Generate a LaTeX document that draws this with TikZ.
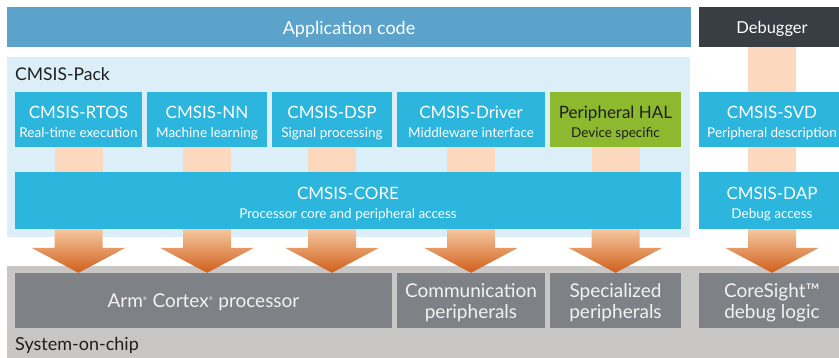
\documentclass[tikz,border=0pt]{standalone}
\usepackage{fontspec}
\setmainfont{Lato}
\usetikzlibrary{calc}
\definecolor{appblue}{HTML}{5BA3CB}
\definecolor{debugdark}{HTML}{393D44}
\definecolor{packbg}{HTML}{DCEFF8}
\definecolor{cmsisblue}{HTML}{2CB5DD}
\definecolor{halgreen}{HTML}{8CB92D}
\definecolor{peach}{HTML}{FBD8BE}
\definecolor{chipgrey}{HTML}{7E8185}
\definecolor{socgrey}{HTML}{C9C6C6}
\definecolor{darktext}{HTML}{1E1E1E}
\definecolor{arrowtop}{HTML}{F6C7A0}
\definecolor{arrowmid}{HTML}{EE8A3A}
\definecolor{arrowtip}{HTML}{CF5F1A}
\newcommand\subsize{\fontsize{13.5}{15}\selectfont}
\newcommand\twoline[2]{\rule{0pt}{19pt}#1\\{\subsize\vphantom{g}#2}}
\newcommand\flowarrow[3]{%
  \shade[bigarrow] let \p1=(#1.center |- #2.south), \p2=(#1.center |- #3.north) in
    (\x1-24pt,\y1) -- (\x1+24pt,\y1) -- (\x1+24pt,\y2+25pt) -- (\x1+47pt,\y2+25pt)
    -- (\x1,\y2) -- (\x1-47pt,\y2+25pt) -- (\x1-24pt,\y2+25pt) -- cycle;}
\tikzset{
  block/.style={rectangle, inner sep=0pt, text=white, align=center, font=\fontsize{17}{19}\selectfont},
  cmsis/.style={block, fill=cmsisblue, minimum height=55pt},
  chip/.style={block, fill=chipgrey, minimum height=55pt, text=white!95!black, font=\fontsize{19}{21}\selectfont},
  link/.style={draw=peach, line width=48pt},
  bigarrow/.style={top color=arrowtop, middle color=arrowmid, bottom color=arrowtip}
}

\begin{document}
\begin{tikzpicture}[x=1pt, y=-1pt]
    \useasboundingbox (0,0) rectangle (839,357);
    \clip (0,0) rectangle (839,357);
    \node[block, fill=appblue, minimum width=684pt, minimum height=40pt, text height=16.6pt, text depth=2pt, font=\fontsize{18}{20}\selectfont] (app) at (349,27) {Application code};
    \node[block, fill=debugdark, minimum width=146pt, minimum height=40pt, text height=14pt, text depth=1.4pt, font=\fontsize{16.5}{18}\selectfont] (debug) at (772,27) {Debugger};
    \fill[packbg] (7,57) rectangle (690,237);
    \fill[socgrey] (7,266) rectangle (845,360);
    \node[anchor=base west, text=darktext, inner sep=0pt, font=\fontsize{17.5}{19}\selectfont] (packlabel) at (15,80) {CMSIS-Pack};
    \node[anchor=base west, text=darktext, inner sep=0pt, font=\fontsize{18}{20}\selectfont] (soclabel) at (15,350) {System-on-chip};

    \node[cmsis, minimum width=127pt] (rtos) at (78.5,119.5) {\twoline{CMSIS-RTOS}{Real-time execution}};
    \node[cmsis, minimum width=120pt] (nn) at (207,119.5) {\twoline{CMSIS-NN}{Machine learning}};
    \node[cmsis, minimum width=120pt] (dsp) at (332,119.5) {\twoline{CMSIS-DSP}{Signal processing}};
    \node[cmsis, minimum width=148pt] (driver) at (471,119.5) {\twoline{CMSIS-Driver}{Middleware interface}};
    \node[cmsis, fill=halgreen, text=darktext, minimum width=131pt] (hal) at (615.5,119.5) {\twoline{Peripheral HAL}{Device specific}};
    \node[cmsis, minimum width=146pt] (svd) at (772,119.5) {\twoline{CMSIS-SVD}{Peripheral description}};
    \node[cmsis, minimum width=666pt, minimum height=57pt] (core) at (348,200.5) {\twoline{CMSIS-CORE}{Processor core and peripheral access}};
    \node[cmsis, minimum width=146pt, minimum height=57pt] (dap) at (772,200.5) {\twoline{CMSIS-DAP}{Debug access}};

    \node[chip, minimum width=377pt, text height=17pt, text depth=4pt] (arm) at (203.5,300.5) {Arm\textsuperscript{\tiny\textregistered} Cortex\textsuperscript{\tiny\textregistered} processor};
    \node[chip, minimum width=148pt] (comm) at (471,300.5) {\rule{0pt}{18pt}Communication\\peripherals};
    \node[chip, minimum width=131pt] (spec) at (615.5,300.5) {\rule{0pt}{18pt}Specialized\\peripherals};
    \node[chip, minimum width=146pt] (sight) at (772,300.5) {\rule{0pt}{18pt}CoreSight™\\debug logic};

    \foreach \n in {rtos,nn,dsp,driver,hal}
      \draw[link] (\n.south) -- (\n.south |- core.north);
    \draw[link] (debug.south) -- (svd.north);
    \draw[link] (svd.south) -- (dap.north);

    \flowarrow{rtos}{core}{arm}
    \flowarrow{nn}{core}{arm}
    \flowarrow{dsp}{core}{arm}
    \flowarrow{driver}{core}{comm}
    \flowarrow{hal}{core}{spec}
    \flowarrow{svd}{dap}{sight}
  \end{tikzpicture}
\end{document}
